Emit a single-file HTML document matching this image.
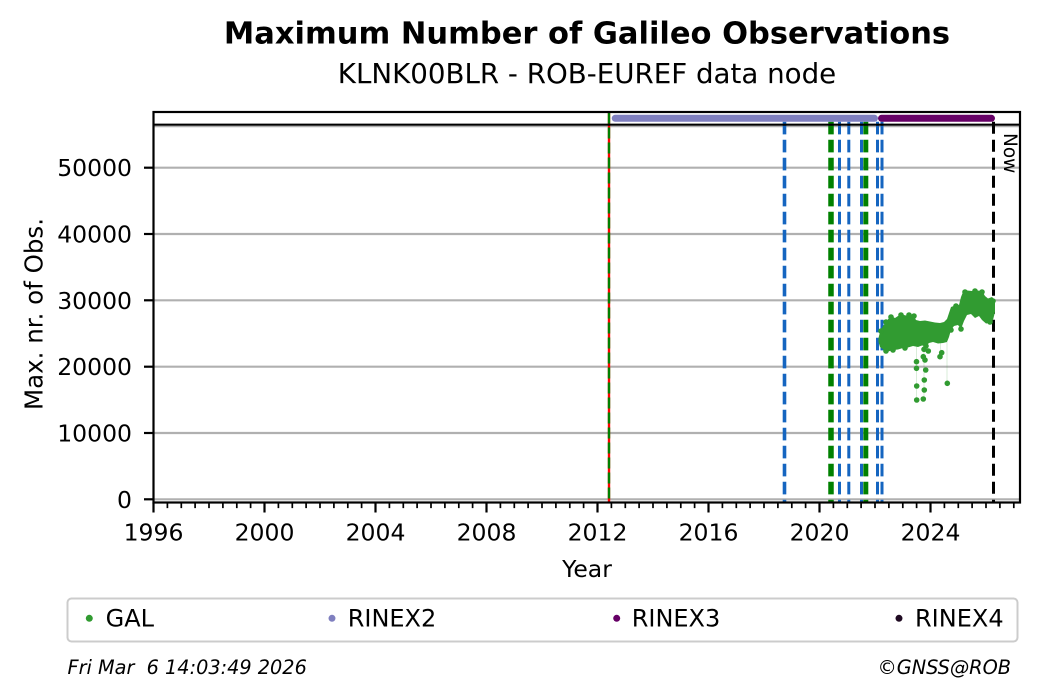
<!DOCTYPE html>
<html>
<head>
<meta charset="utf-8">
<style>
html,body{margin:0;padding:0;background:#fff;}
svg{display:block;}
text{font-family:"DejaVu Sans","Liberation Sans",sans-serif;fill:#000;}
</style>
</head>
<body>
<svg width="1040" height="699" viewBox="0 0 1040 699" xmlns="http://www.w3.org/2000/svg">
<rect x="0" y="0" width="1040" height="699" fill="#fff"/>

<!-- Titles -->
<text x="587" y="43.5" font-size="30.5" font-weight="bold" text-anchor="middle">Maximum Number of Galileo Observations</text>
<text x="587" y="83" font-size="27.7" text-anchor="middle">KLNK00BLR - ROB-EUREF data node</text>

<!-- Grid lines -->
<g stroke="#b0b0b0" stroke-width="2.2">
<line x1="153.5" y1="499.3" x2="1020" y2="499.3"/>
<line x1="153.5" y1="433.0" x2="1020" y2="433.0"/>
<line x1="153.5" y1="366.7" x2="1020" y2="366.7"/>
<line x1="153.5" y1="300.3" x2="1020" y2="300.3"/>
<line x1="153.5" y1="234.0" x2="1020" y2="234.0"/>
<line x1="153.5" y1="167.7" x2="1020" y2="167.7"/>
<line x1="153.5" y1="126.6" x2="1020" y2="126.6" stroke-width="1.2"/>
</g>

<!-- Vertical event lines -->
<line x1="609" y1="112.5" x2="609" y2="502.5" stroke="#ff0000" stroke-width="2.4"/>
<line x1="609" y1="112.5" x2="609" y2="502.5" stroke="#008000" stroke-width="2.4" stroke-dasharray="11,4"/>

<g stroke="#1565c0" stroke-width="3.6" stroke-dasharray="12.7,5.3">
<line x1="784.5" y1="121.7" x2="784.5" y2="502.5"/>
<line x1="839.5" y1="121.7" x2="839.5" y2="502.5" stroke-width="3"/>
<line x1="848.8" y1="121.7" x2="848.8" y2="502.5" stroke-width="3"/>
<line x1="861.5" y1="121.7" x2="861.5" y2="502.5" stroke-width="3"/>
<line x1="877.5" y1="121.7" x2="877.5" y2="502.5" stroke-width="3"/>
<line x1="882" y1="121.7" x2="882" y2="502.5" stroke-width="3"/>
</g>
<g stroke="#008000" stroke-dasharray="12.7,5.3">
<line x1="831" y1="121.7" x2="831" y2="502.5" stroke-width="5.5"/>
<line x1="865.8" y1="121.7" x2="865.8" y2="502.5" stroke-width="5"/>
</g>
<line x1="993.5" y1="121.7" x2="993.5" y2="502.5" stroke="#000" stroke-width="3" stroke-dasharray="12,6"/>

<!-- Strip bars -->
<line x1="615.2" y1="118.3" x2="874.5" y2="118.3" stroke="#7f7fbf" stroke-width="7" stroke-linecap="round"/>
<line x1="881.5" y1="118.3" x2="991.5" y2="118.3" stroke="#660066" stroke-width="7" stroke-linecap="round"/>

<!-- Faint connecting lines -->
<g stroke="rgba(49,155,49,0.18)" stroke-width="1">
<line x1="916.5" y1="345" x2="916.5" y2="400"/>
<line x1="924" y1="345" x2="924" y2="400"/>
<line x1="940.5" y1="343" x2="940.5" y2="357"/>
<line x1="947" y1="342" x2="947" y2="383"/>
</g>

<!-- GAL data blob -->
<g fill="#319b31">
<polygon points="878.5,338 880,332 883,326 886,322 889,318 892,316.5 895,318 898,316 902,314.5 906,315.5 910,314.5 913.5,315.5 916,320 920,321 925,320.5 930,321.5 935,322.5 940,323 944,322 947,319 949,313 951,307 955,305.5 959,305 961,297 963,292 967,290.5 972,291 977,290.5 982,291 985,296 988,298.5 992,297 995,300 995,312 993,320 990,323 986,323.5 982,320 979,316 975,318 971,314 967,315 964,321 961,329 958,325 954,326 951,330 949,337 947,342 943,343 938,343.5 933,342 929,343 926,346 922,345.5 918,347 913,346 908,347.5 903,348 898,349.5 893,350 888,351.5 884,350 880,347 878.5,342"/>
<circle cx="881" cy="331" r="2.8"/><circle cx="886" cy="322" r="2.8"/><circle cx="891" cy="317" r="2.8"/>
<circle cx="901" cy="315" r="2.8"/><circle cx="909" cy="315" r="2.8"/><circle cx="914" cy="316" r="2.8"/>
<circle cx="893" cy="350" r="2.8"/><circle cx="886" cy="351" r="2.8"/><circle cx="905" cy="348" r="2.8"/>
<circle cx="926" cy="346" r="2.8"/><circle cx="961" cy="329" r="2.8"/><circle cx="951" cy="330" r="2.8"/>
<circle cx="965" cy="292" r="2.8"/><circle cx="975" cy="291" r="2.8"/><circle cx="982" cy="292" r="2.8"/>
<circle cx="990" cy="322" r="2.8"/><circle cx="993" cy="301" r="2.8"/><circle cx="956" cy="306" r="2.8"/>
<!-- outliers -->
<circle cx="916.5" cy="361.7" r="2.8"/><circle cx="916.5" cy="368.3" r="2.8"/><circle cx="916.7" cy="386" r="2.8"/>
<circle cx="916.7" cy="400" r="2.8"/><circle cx="924" cy="349.3" r="2.8"/><circle cx="928.3" cy="351" r="2.8"/>
<circle cx="923.3" cy="356.7" r="2.8"/><circle cx="925" cy="360" r="2.8"/><circle cx="925.7" cy="370" r="2.8"/>
<circle cx="924.3" cy="380" r="2.8"/><circle cx="924.3" cy="390" r="2.8"/><circle cx="923.3" cy="399" r="2.8"/>
<circle cx="940" cy="356.7" r="2.8"/><circle cx="941.7" cy="352.7" r="2.8"/><circle cx="947.3" cy="383.3" r="2.8"/>
</g>

<!-- Axes frame -->
<g stroke="#000" stroke-width="2.2" fill="none">
<rect x="153.5" y="112" width="866.5" height="390.5"/>
<line x1="153.5" y1="124.7" x2="1020" y2="124.7"/>
</g>

<!-- Y ticks -->
<g stroke="#000" stroke-width="2.2">
<line x1="144" y1="499.3" x2="153.5" y2="499.3"/>
<line x1="144" y1="433.0" x2="153.5" y2="433.0"/>
<line x1="144" y1="366.7" x2="153.5" y2="366.7"/>
<line x1="144" y1="300.3" x2="153.5" y2="300.3"/>
<line x1="144" y1="234.0" x2="153.5" y2="234.0"/>
<line x1="144" y1="167.7" x2="153.5" y2="167.7"/>
</g>
<g font-size="23.5" text-anchor="end">
<text x="132" y="507.8">0</text>
<text x="132" y="441.5">10000</text>
<text x="132" y="375.2">20000</text>
<text x="132" y="308.8">30000</text>
<text x="132" y="242.5">40000</text>
<text x="132" y="176.2">50000</text>
</g>

<!-- X ticks -->
<g stroke="#000" stroke-width="2.2">
<line x1="153.5" y1="502.5" x2="153.5" y2="512.5"/>
<line x1="264.5" y1="502.5" x2="264.5" y2="512.5"/>
<line x1="375.5" y1="502.5" x2="375.5" y2="512.5"/>
<line x1="486.5" y1="502.5" x2="486.5" y2="512.5"/>
<line x1="597.5" y1="502.5" x2="597.5" y2="512.5"/>
<line x1="708.5" y1="502.5" x2="708.5" y2="512.5"/>
<line x1="819.5" y1="502.5" x2="819.5" y2="512.5"/>
<line x1="930.5" y1="502.5" x2="930.5" y2="512.5"/>
</g>
<g stroke="#000" stroke-width="1.7">
<path d="M167.4 502.5v5.6M181.3 502.5v5.6M195.1 502.5v5.6M209 502.5v5.6M222.9 502.5v5.6M236.8 502.5v5.6M250.6 502.5v5.6
M278.4 502.5v5.6M292.3 502.5v5.6M306.1 502.5v5.6M320 502.5v5.6M333.9 502.5v5.6M347.8 502.5v5.6M361.6 502.5v5.6
M389.4 502.5v5.6M403.3 502.5v5.6M417.1 502.5v5.6M431 502.5v5.6M444.9 502.5v5.6M458.8 502.5v5.6M472.6 502.5v5.6
M500.4 502.5v5.6M514.3 502.5v5.6M528.1 502.5v5.6M542 502.5v5.6M555.9 502.5v5.6M569.8 502.5v5.6M583.6 502.5v5.6
M611.4 502.5v5.6M625.3 502.5v5.6M639.1 502.5v5.6M653 502.5v5.6M666.9 502.5v5.6M680.8 502.5v5.6M694.6 502.5v5.6
M722.4 502.5v5.6M736.3 502.5v5.6M750.1 502.5v5.6M764 502.5v5.6M777.9 502.5v5.6M791.8 502.5v5.6M805.6 502.5v5.6
M833.4 502.5v5.6M847.3 502.5v5.6M861.1 502.5v5.6M875 502.5v5.6M888.9 502.5v5.6M902.8 502.5v5.6M916.6 502.5v5.6
M944.4 502.5v5.6M958.3 502.5v5.6M972.1 502.5v5.6M986 502.5v5.6M999.9 502.5v5.6M1013.8 502.5v5.6"/>
</g>
<g font-size="23.5" text-anchor="middle">
<text x="153.5" y="540.5">1996</text>
<text x="264.5" y="540.5">2000</text>
<text x="375.5" y="540.5">2004</text>
<text x="486.5" y="540.5">2008</text>
<text x="597.5" y="540.5">2012</text>
<text x="708.5" y="540.5">2016</text>
<text x="819.5" y="540.5">2020</text>
<text x="930.5" y="540.5">2024</text>
</g>

<!-- Axis labels -->
<text x="587" y="577" font-size="23.5" text-anchor="middle">Year</text>
<text transform="translate(42.5,314) rotate(-90)" font-size="24.5" text-anchor="middle">Max. nr. of Obs.</text>

<!-- Now label -->
<text transform="translate(1004,133) rotate(90)" font-size="18.5" text-anchor="start">Now</text>

<!-- Legend -->
<rect x="67.5" y="598.5" width="950" height="43" rx="4" ry="4" fill="#fff" stroke="#cccccc" stroke-width="2"/>
<circle cx="89.3" cy="618.3" r="3.5" fill="#319b31"/>
<text x="105.6" y="626.7" font-size="24">GAL</text>
<circle cx="332" cy="618.3" r="3.5" fill="#7f7fbf"/>
<text x="347.7" y="626.7" font-size="24">RINEX2</text>
<circle cx="616.7" cy="618.3" r="3.5" fill="#660066"/>
<text x="631.7" y="626.7" font-size="24">RINEX3</text>
<circle cx="899" cy="618.3" r="3.5" fill="#1f0a22"/>
<text x="915" y="626.7" font-size="24">RINEX4</text>

<!-- Footer -->
<text x="67.5" y="674" font-size="19.3" font-style="italic" xml:space="preserve">Fri Mar  6 14:03:49 2026</text>
<text x="1011" y="674" font-size="19.3" font-style="italic" text-anchor="end">©GNSS@ROB</text>
</svg>
</body>
</html>
